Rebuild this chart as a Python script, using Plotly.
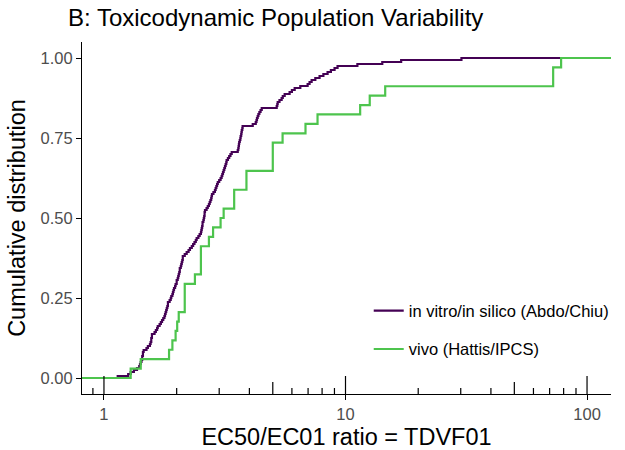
import plotly.graph_objects as go

# TDVF01 values
vitro_tdvf = [
    1.14, 1.26, 1.29,
    1.33, 1.37, 1.40, 1.41,
    1.42, 1.43, 1.44, 1.44, 1.45, 1.45, 1.46,
    1.50, 1.52, 1.55,
    1.56, 1.57, 1.57, 1.58, 1.58,
    1.62, 1.64, 1.66, 1.67,
    1.70, 1.72, 1.74,
    1.76, 1.78, 1.79, 1.80,
    1.81, 1.82, 1.83, 1.84, 1.84,
    1.87, 1.89,
    1.90, 1.92, 1.93, 1.94, 1.95,
    1.97, 1.98, 2.00, 2.00,
    2.02, 2.03, 2.04, 2.05, 2.06, 2.06,
    2.08, 2.09, 2.10, 2.11, 2.12, 2.12,
    2.16, 2.20, 2.24, 2.27, 2.31,
    2.34, 2.37, 2.40, 2.42,
    2.46, 2.49, 2.52,
    2.53, 2.54, 2.55, 2.56, 2.56,
    2.58, 2.59, 2.60, 2.61, 2.61, 2.62,
    2.66, 2.69,
    2.72, 2.74, 2.76, 2.78, 2.79, 2.80,
    2.84, 2.88, 2.90, 2.92, 2.94, 2.96,
    3.00, 3.04, 3.07,
    3.09, 3.11, 3.13, 3.15, 3.17, 3.19, 3.21, 3.22,
    3.26, 3.30, 3.34, 3.38, 3.58,
    3.60, 3.61, 3.62, 3.63, 3.65,
    3.67, 3.68, 3.70, 3.71, 3.72, 3.74, 3.75,
    4.13, 4.25, 4.28, 4.30, 4.33,
    4.36, 4.40, 4.45, 4.50,
    5.19, 5.22, 5.24, 5.33, 5.44, 5.50, 5.60,
    5.87, 6.00, 6.16, 6.50, 6.97,
    7.10, 7.24, 7.50, 7.81, 8.10, 8.43, 8.70, 9.01, 9.27,
    11.2, 14.2, 17.0, 30.2,
]
vivo_tdvf = [
    1.29, 1.42, 1.86, 1.92, 1.98, 2.01, 2.04, 2.16, 2.16, 2.16,
    2.38, 2.52, 2.52, 2.52, 2.72, 2.83, 3.04, 3.13, 3.46, 3.46,
    3.89, 3.89, 5.00, 5.00, 5.00, 5.49, 6.83, 7.66, 11.5, 12.6,
    14.6, 72.4, 72.4, 78.1,
]
series_names = ['in vitro/in silico (Abdo/Chiu)', 'vivo (Hattis/IPCS)']
series_colors = ['#440154', '#4DC44D']

y_ticks = [0, 0.25, 0.5, 0.75, 1]
y_labels = ['0.00', '0.25', '0.50', '0.75', '1.00']
x_ticks = [1, 10, 100]
x_labels = ['1', '10', '100']

# annotation_logticks style marks (short / mid / long)
log_short = [0.9, 2, 3, 4, 6, 7, 8, 9, 20, 30, 40, 60, 70, 80, 90]
log_mid = [5, 50]
log_long = [1, 10, 100]

X_RANGE = [-0.0909, 2.0992]  # log10 units
PLOT_H = 352  # px height of the panel


def ecdf_steps(values, lo=0.5, hi=300):
    '''Step coordinates of an empirical CDF, padded out to the panel edges.'''
    xs = sorted(values)
    n = len(xs)
    ys = [(i + 1) / n for i in range(n)]
    return [lo] + xs + [hi], [0] + ys + [1]


fig = go.Figure()
for vals, name, col in zip([vitro_tdvf, vivo_tdvf], series_names, series_colors):
    sx, sy = ecdf_steps(vals)
    fig.add_trace(go.Scatter(
        x=sx, y=sy, mode='lines', name=name, legendgroup=name,
        line={'color': col, 'width': 2.2, 'shape': 'hv'},
    ))

for vals, length in [(log_short, 6), (log_mid, 12), (log_long, 18)]:
    for v in vals:
        fig.add_shape(
            type='line', xref='x', yref='y domain',
            x0=v, x1=v, y0=0, y1=length / PLOT_H,
            line={'color': 'black', 'width': 1.2}, layer='above',
        )

fig.update_layout(
    width=625, height=450,
    margin={'l': 82, 'r': 13, 't': 42, 'b': 56},
    paper_bgcolor='white', plot_bgcolor='white',
    font={'family': 'Liberation Sans, Arial, sans-serif', 'color': 'black'},
    title={
        'text': 'B: Toxicodynamic Population Variability',
        'x': 68 / 625, 'xref': 'container', 'xanchor': 'left',
        'y': 1 - 18 / 450, 'yref': 'container', 'yanchor': 'middle',
        'font': {'size': 24, 'color': 'black'},
    },
    xaxis={
        'type': 'log', 'range': X_RANGE, 'automargin': False,
        'tickmode': 'array', 'tickvals': x_ticks, 'ticktext': x_labels,
        'ticks': 'outside', 'ticklen': 5, 'tickwidth': 1.2, 'tickcolor': 'black',
        'tickfont': {'size': 16.5, 'color': '#4D4D4D'},
        'showline': True, 'linecolor': 'black', 'linewidth': 1.2,
        'showgrid': False, 'zeroline': False,
        'title': {'text': 'EC50/EC01 ratio = TDVF01', 'font': {'size': 23.5}, 'standoff': 6},
    },
    yaxis={
        'range': [-0.05, 1.05], 'automargin': False,
        'tickmode': 'array', 'tickvals': y_ticks, 'ticktext': y_labels,
        'ticks': 'outside', 'ticklen': 5, 'tickwidth': 1.2, 'tickcolor': 'black',
        'tickfont': {'size': 16.5, 'color': '#4D4D4D'},
        'showline': True, 'linecolor': 'black', 'linewidth': 1.2,
        'showgrid': False, 'zeroline': False,
        'title': {'text': 'Cumulative distribution', 'font': {'size': 23.5}, 'standoff': 8},
    },
    legend={
        'x': 0.541, 'y': 0.286, 'xanchor': 'left', 'yanchor': 'top',
        'bgcolor': 'rgba(0,0,0,0)', 'font': {'size': 16.5, 'color': 'black'},
        'tracegroupgap': 14,
    },
)

# the page's default body margin would shift the figure by 8px
fig.write_html(
    "out.html",
    config={'displayModeBar': False},
    post_script="document.body.style.margin = '0px';",
)
